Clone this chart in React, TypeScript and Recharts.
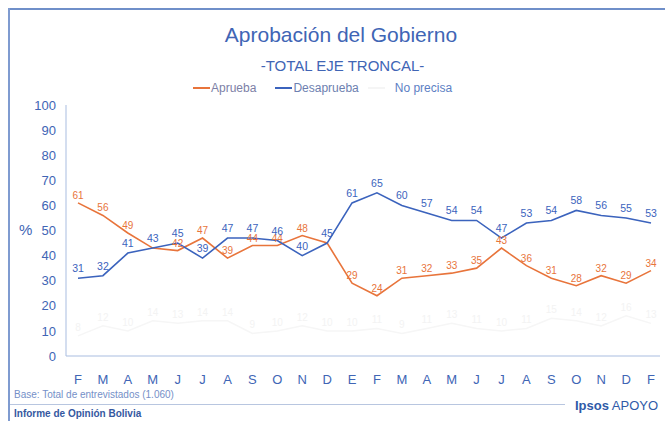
import { LineChart, Line, XAxis, YAxis, LabelList } from 'recharts';

// Meses (Feb año 1 -> Feb año 3)
const meses = ['F', 'M', 'A', 'M', 'J', 'J', 'A', 'S', 'O', 'N', 'D', 'E', 'F', 'M', 'A', 'M', 'J', 'J', 'A', 'S', 'O', 'N', 'D', 'F'];
const aprueba = [61, 56, 49, 43, 42, 47, 39, 44, 44, 48, 45, 29, 24, 31, 32, 33, 35, 43, 36, 31, 28, 32, 29, 34];
const desaprueba = [31, 32, 41, 43, 45, 39, 47, 47, 46, 40, 45, 61, 65, 60, 57, 54, 54, 47, 53, 54, 58, 56, 55, 53];
const noPrecisa = [8, 12, 10, 14, 13, 14, 14, 9, 10, 12, 10, 10, 11, 9, 11, 13, 11, 10, 11, 15, 14, 12, 16, 13];
const yTicks = [0, 10, 20, 30, 40, 50, 60, 70, 80, 90, 100];

const data = meses.map((mes, i) => ({
  mes,
  aprueba: aprueba[i],
  desaprueba: desaprueba[i],
  noPrecisa: noPrecisa[i],
}));

const ORANGE = '#e8743b';
const BLUE = '#3b63bd';
const TEXT = '#4065b5';
const FONT = '"Liberation Sans", Arial, sans-serif';

// la etiqueta naranja queda tapada por la azul cuando ambos valores coinciden
const apruebaLabel = (props: any) => {
  const { x, y, index, value } = props;
  if (aprueba[index] === desaprueba[index]) return null;
  return (
    <text x={x} y={y - 4} textAnchor="middle" fontSize={10} fill={ORANGE} fontFamily={FONT}>
      {value}
    </text>
  );
};

export default function App() {
  return (
    <div style={{ position: 'absolute', left: 0, top: 0, width: 665, height: 421, background: '#fff', fontFamily: FONT, overflow: 'hidden' }}>
      {/* marco */}
      <div style={{ position: 'absolute', left: 8, top: 8, width: 657, height: 2, background: '#6f8fc9' }} />
      <div style={{ position: 'absolute', left: 8, top: 8, width: 2, height: 413, background: '#7f9bd0' }} />
      <div style={{ position: 'absolute', left: 10, top: 404, width: 555, height: 1, background: '#b8c6e0' }} />

      <div style={{ position: 'absolute', left: 0, width: 682, top: 23, textAlign: 'center', fontSize: 21, color: TEXT }}>
        Aprobación del Gobierno
      </div>
      <div style={{ position: 'absolute', left: 0, width: 685, top: 57, textAlign: 'center', fontSize: 15, color: TEXT }}>
        -TOTAL EJE TRONCAL-
      </div>

      {/* leyenda */}
      <div style={{ position: 'absolute', top: 81, left: 193, fontSize: 12, color: '#6d7fb0', display: 'flex', alignItems: 'center' }}>
        <span style={{ width: 17, height: 2, background: ORANGE, display: 'inline-block' }} />
        <span style={{ marginLeft: 1, color: '#7d7fa6' }}>Aprueba</span>
        <span style={{ width: 17, height: 2, background: BLUE, display: 'inline-block', marginLeft: 19 }} />
        <span style={{ marginLeft: 1 }}>Desaprueba</span>
        <span style={{ width: 17, height: 2, background: '#f5f5f5', display: 'inline-block', marginLeft: 9 }} />
        <span style={{ marginLeft: 10, color: '#5d7fc4' }}>No precisa</span>
      </div>

      <div style={{ position: 'absolute', left: 19, top: 221, fontSize: 15, color: TEXT }}>%</div>

      <div style={{ position: 'absolute', left: 0, top: 0 }}>
        <LineChart width={665} height={421} data={data} margin={{ top: 105, right: 5, bottom: 35, left: 6 }}>
          <XAxis
            dataKey="mes"
            interval={0}
            height={30}
            padding={{ left: 12, right: 9 }}
            axisLine={{ stroke: '#a9bde0' }}
            tickLine={false}
            tickMargin={13}
            tick={{ fontSize: 13, fill: TEXT, fontFamily: FONT }}
          />
          <YAxis
            width={60}
            domain={[0, 100]}
            ticks={yTicks}
            interval={0}
            axisLine={{ stroke: '#a9bde0' }}
            tickLine={false}
            tickMargin={4}
            tick={{ fontSize: 13, fill: TEXT, fontFamily: FONT }}
          />
          <Line dataKey="noPrecisa" stroke="#f6f6f6" strokeWidth={1.5} dot={false} isAnimationActive={false}>
            <LabelList dataKey="noPrecisa" position="top" offset={5} style={{ fontSize: 10, fill: '#f3f3f3', fontFamily: FONT }} />
          </Line>
          <Line dataKey="aprueba" stroke={ORANGE} strokeWidth={1.6} dot={false} isAnimationActive={false} label={apruebaLabel} />
          <Line dataKey="desaprueba" stroke={BLUE} strokeWidth={1.6} dot={false} isAnimationActive={false}>
            <LabelList dataKey="desaprueba" position="top" offset={6} style={{ fontSize: 10.5, fill: BLUE, fontFamily: FONT }} />
          </Line>
        </LineChart>
      </div>

      <div style={{ position: 'absolute', left: 14, top: 389, fontSize: 10, color: '#7590c8' }}>
        Base: Total de entrevistados (1.060)
      </div>
      <div style={{ position: 'absolute', left: 14, top: 408, fontSize: 10, fontWeight: 'bold', color: '#35589f' }}>
        Informe de Opinión Bolivia
      </div>
      <div style={{ position: 'absolute', left: 575, top: 398, fontSize: 13, color: '#2f5aa8', whiteSpace: 'nowrap' }}>
        <span style={{ fontWeight: 'bold' }}>Ipsos</span> APOYO
      </div>
    </div>
  );
}
